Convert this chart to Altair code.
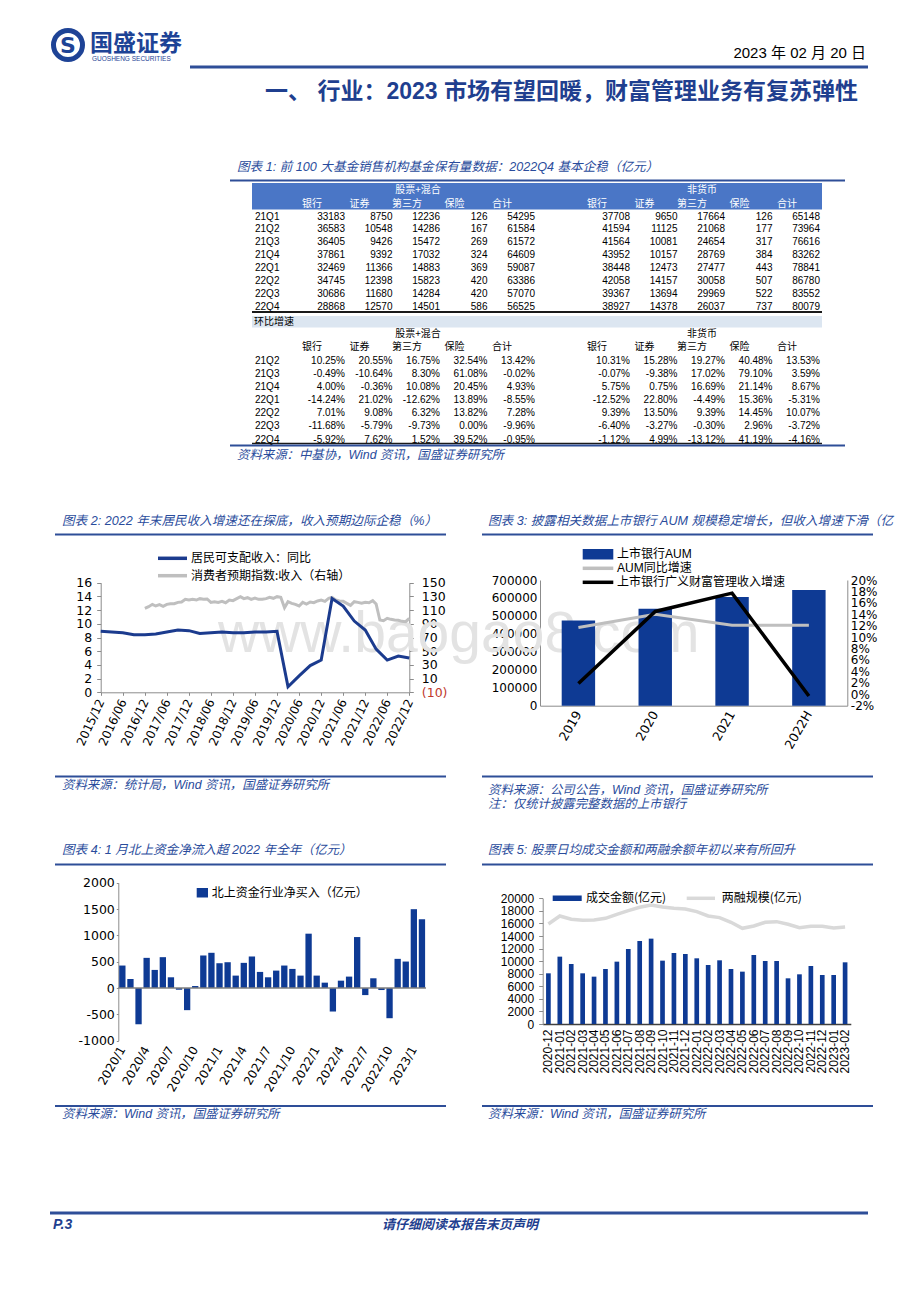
import altair as alt
import pandas as pd

# ---------------- data ----------------
quarters = ["21Q1", "21Q2", "21Q3", "21Q4", "22Q1", "22Q2", "22Q3", "22Q4"]
col_names = ["银行", "证券", "第三方", "保险", "合计"]
group_names = ["股票+混合", "非货币"]
eq_bank = [33183, 36583, 36405, 37861, 32469, 34745, 30686, 28868]
eq_sec = [8750, 10548, 9426, 9392, 11366, 12398, 11680, 12570]
eq_third = [12236, 14286, 15472, 17032, 14883, 15823, 14284, 14501]
eq_ins = [126, 167, 269, 324, 369, 420, 420, 586]
eq_total = [54295, 61584, 61572, 64609, 59087, 63386, 57070, 56525]
nm_bank = [37708, 41594, 41564, 43952, 38448, 42058, 39367, 38927]
nm_sec = [9650, 11125, 10081, 10157, 12473, 14157, 13694, 14378]
nm_third = [17664, 21068, 24654, 28769, 27477, 30058, 29969, 26037]
nm_ins = [126, 177, 317, 384, 443, 507, 522, 737]
nm_total = [65148, 73964, 76616, 83262, 78841, 86780, 83552, 80079]

g_quarters = ["21Q2", "21Q3", "21Q4", "22Q1", "22Q2", "22Q3", "22Q4"]
g_eq_bank = [10.25, -0.49, 4.00, -14.24, 7.01, -11.68, -5.92]
g_eq_sec = [20.55, -10.64, -0.36, 21.02, 9.08, -5.79, 7.62]
g_eq_third = [16.75, 8.30, 10.08, -12.62, 6.32, -9.73, 1.52]
g_eq_ins = [32.54, 61.08, 20.45, 13.89, 13.82, 0.00, 39.52]
g_eq_total = [13.42, -0.02, 4.93, -8.55, 7.28, -9.96, -0.95]
g_nm_bank = [10.31, -0.07, 5.75, -12.52, 9.39, -6.40, -1.12]
g_nm_sec = [15.28, -9.38, 0.75, 22.80, 13.50, -3.27, 4.99]
g_nm_third = [19.27, 17.02, 16.69, -4.49, 9.39, -0.30, -13.12]
g_nm_ins = [40.48, 79.10, 21.14, 15.36, 14.45, 2.96, 41.19]
g_nm_total = [13.53, 3.59, 8.67, -5.31, 10.07, -3.72, -4.16]

# chart 2
income_dates = [d.strftime("%Y-%m-01") for d in pd.date_range("2015-12-01", "2022-12-01", freq="3MS")]
income_yoy = [8.9, 8.8, 8.7, 8.4, 8.4, 8.5, 8.8, 9.1, 9.0, 8.6, 8.7, 8.8, 8.7, 8.7, 8.8, 8.8, 8.9,
              0.8, 2.4, 3.9, 4.7, 13.7, 12.6, 10.4, 9.1, 6.3, 4.7, 5.3, 5.0]
cons_dates = [d.strftime("%Y-%m-01") for d in pd.date_range("2016-12-01", "2022-12-01", freq="MS")]
cons_income = [112.6, 115.0, 118.4, 116.0, 117.9, 115.5, 118.4, 119.4, 119.4, 121.3, 121.8, 125.7,
               124.7, 125.7, 124.7, 126.7, 125.7, 126.2, 121.3, 122.3, 121.3, 122.8, 120.8, 124.7,
               123.8, 126.7, 129.6, 126.7, 128.1, 125.7, 127.6, 125.7, 125.7, 126.7, 128.6, 127.2,
               129.6, 128.6, 113.5, 122.3, 119.9, 118.4, 116.0, 121.3, 118.9, 121.8, 120.8, 123.3,
               124.7, 122.8, 127.2, 128.6, 124.7, 123.3, 122.8, 119.9, 116.9, 122.3, 121.3, 119.9,
               121.3, 120.8, 123.8, 118.9, 95.5, 94.6, 98.0, 96.5, 95.5, 95.1, 93.6, 93.1, 98.0]
c2_ticks = ["2015/12", "2016/06", "2016/12", "2017/06", "2017/12", "2018/06", "2018/12", "2019/06",
            "2019/12", "2020/06", "2020/12", "2021/06", "2021/12", "2022/06", "2022/12"]

# chart 3
c3_years = ["2019", "2020", "2021", "2022H"]
c3_aum = [475000, 540000, 605000, 644000]
c3_aum_yoy = [11.7, 14.0, 12.1, 12.1]
c3_wm_growth = [1.9, 14.5, 17.7, -0.3]

# chart 4
c4_months = [f"{y}/{m}" for y in (2020, 2021, 2022) for m in range(1, 13)] + ["2023/1", "2023/2"]
c4_northbound = [427, 172, -688, 573, 344, 586, 204, -32, -420, 38, 618, 669,
                 471, 490, 236, 478, 599, 306, 204, 331, 427, 363, 236, 1032,
                 236, 102, -446, 140, 217, 968, -134, 185, -38, -573, 554, 503,
                 1497, 1306]

# chart 5
c5_months = ["2020-12"] + [f"{y}-{m:02d}" for y in (2021, 2022) for m in range(1, 13)] + ["2023-01", "2023-02"]
c5_turnover = [8064, 10716, 9549, 8064, 7533, 8753, 9920, 11936, 13210, 13581, 10080, 11300, 11141,
               10451, 9390, 10133, 8753, 8329, 10981, 10027, 10027, 7268, 7905, 9231, 7798, 7798, 9814]
c5_margin = [15915, 17188, 16658, 16499, 16552, 16817, 17454, 18037, 18568, 18939, 18621, 18408, 18302,
             17878, 17188, 16923, 16180, 15225, 15597, 16180, 16286, 15862, 15332, 15544, 15544, 15279, 15438]

# ---------------- layout helpers ----------------
W, H = 904, 1286


def X(p):
    return p - 8


def Y(p):
    return p - 8


CJK = "Noto Sans CJK SC"
SANS = "Liberation Sans, Noto Sans CJK SC"
VERD = "DejaVu Sans, Noto Sans CJK SC"
NAVY = "#0E3A94"
LINEBLUE = "#1B3B8E"
TITLEBLUE = "#2A4C9C"
RULEBLUE = "#2E4E98"
GRAY = "#BFBFBF"
AXG = "#8C8C8C"
TS = 12.6  # title font size
CS = 12.4  # caption font size

one = pd.DataFrame({"k": [0]})


def text(s, x, y, size=12, color="#000000", align="left", font=SANS, weight="normal",
         style="normal", baseline="middle", limit=0, opacity=1.0):
    kw = dict(text=s, align=align, baseline=baseline, font=font, fontSize=size, color=color,
              fontWeight=weight, fontStyle=style, opacity=opacity)
    if limit:
        kw.update(limit=limit, ellipsis=" ")
    return alt.Chart(one).mark_text(**kw).encode(x=alt.value(X(x)), y=alt.value(Y(y)))


def hline(x1, x2, y, color=RULEBLUE, width=1.8):
    return alt.Chart(one).mark_rule(color=color, strokeWidth=width).encode(
        x=alt.value(X(x1)), x2=alt.value(X(x2)), y=alt.value(Y(y)))


def box(x1, x2, y1, y2, color):
    return alt.Chart(one).mark_rect(color=color).encode(
        x=alt.value(X(x1)), x2=alt.value(X(x2)), y=alt.value(Y(y1)), y2=alt.value(Y(y2)))


def axis(orient, pos, font=VERD, size=12, pad=3, tick=0, domain=True, dcolor=AXG, dwidth=1.0, **kw):
    if orient == "left":
        off = -X(pos)
    elif orient == "right":
        off = X(pos) - W
    else:
        off = Y(pos) - H
    d = dict(orient=orient, offset=off, grid=False, title=None, labelFont=font, labelFontSize=size,
             labelColor="#000000", labelPadding=pad, domain=domain, domainColor=dcolor,
             domainWidth=dwidth, labelOverlap=False, labelFlush=False)
    if tick:
        d.update(ticks=True, tickSize=tick, tickColor=dcolor)
    else:
        d.update(ticks=False)
    d.update(kw)
    return alt.Axis(**d)


layers = []

# ---------------- watermark ----------------
layers.append(text("www.baogao8.com", 218, 652, size=57, color="#E3E3E3", baseline="alphabetic",
                   font="Liberation Sans"))

# ---------------- header ----------------
layers.append(alt.Chart(one).mark_point(shape="circle", size=841, filled=False, strokeWidth=5,
                                        color="#1E4396", opacity=1).encode(
    x=alt.value(X(68)), y=alt.value(Y(45))))
layers.append(text("S", 68, 46, size=22, color="#1E4396", align="center", weight="bold",
                   font="DejaVu Sans"))
layers.append(text("国盛证券", 90, 44, size=23, color="#1E4396", weight="bold", font=CJK))
layers.append(text("GUOSHENG SECURITIES", 92, 59, size=6.5, color="#1E4396", font="Liberation Sans"))
layers.append(text("2023 年 02 月 20 日", 866, 53, size=15, align="right", font=SANS))
layers.append(hline(190, 868, 67, color=RULEBLUE, width=3))
layers.append(text("一、 行业：2023 市场有望回暖，财富管理业务有复苏弹性", 858, 92, size=23,
                   color="#1F3F8F", align="right", weight="bold", font=SANS))

# ---------------- table (chart 1) ----------------
layers.append(text("图表 1:  前 100 大基金销售机构基金保有量数据：2022Q4 基本企稳（亿元）", 237, 167,
                   size=TS, color=TITLEBLUE, style="italic"))
layers.append(hline(230, 845, 180.5))
layers.append(box(252, 822, 183, 209.5, "#4A76C6"))
layers.append(box(252, 822, 316, 327.5, "#DCE6F1"))
layers.append(hline(252, 822, 312, color="#1A1A1A", width=2))
layers.append(hline(252, 822, 443.5, color="#1A1A1A", width=1.5))
layers.append(hline(230, 845, 445.5))
layers.append(text("资料来源：中基协，Wind 资讯，国盛证券研究所", 237, 455, size=CS, color=TITLEBLUE,
                   style="italic"))

col_scale = alt.Scale(domain=[0, 10], range=[X(345), X(820)], nice=False, zero=False)
top_cols = [eq_bank, eq_sec, eq_third, eq_ins, eq_total, None, nm_bank, nm_sec, nm_third, nm_ins, nm_total]
bot_cols = [g_eq_bank, g_eq_sec, g_eq_third, g_eq_ins, g_eq_total, None,
            g_nm_bank, g_nm_sec, g_nm_third, g_nm_ins, g_nm_total]
rows_top, rows_bot = [], []
for r, q in enumerate(quarters):
    for c, arr in enumerate(top_cols):
        if arr is not None:
            rows_top.append({"row": r, "col": c, "label": f"{arr[r]}"})
for r, q in enumerate(g_quarters):
    for c, arr in enumerate(bot_cols):
        if arr is not None:
            rows_bot.append({"row": r, "col": c, "label": f"{arr[r]:.2f}%"})
df_top = pd.DataFrame(rows_top)
df_bot = pd.DataFrame(rows_bot)
ys_top = alt.Scale(domain=[0, 7], range=[Y(216.5), Y(307)], nice=False, zero=False)
ys_bot = alt.Scale(domain=[0, 6], range=[Y(361), Y(439.5)], nice=False, zero=False)

for df, ys in ((df_top, ys_top), (df_bot, ys_bot)):
    layers.append(alt.Chart(df).mark_text(align="right", baseline="middle", font=SANS, fontSize=10,
                                          color="#000000").encode(
        x=alt.X("col:Q", scale=col_scale, axis=None),
        y=alt.Y("row:Q", scale=ys, axis=None),
        text="label:N"))

df_q_top = pd.DataFrame({"row": list(range(len(quarters))), "q": quarters})
df_q_bot = pd.DataFrame({"row": list(range(len(g_quarters))), "q": g_quarters})
for df, ys in ((df_q_top, ys_top), (df_q_bot, ys_bot)):
    layers.append(alt.Chart(df).mark_text(align="left", baseline="middle", font=SANS, fontSize=10,
                                          color="#000000").encode(
        x=alt.value(X(255)),
        y=alt.Y("row:Q", scale=ys, axis=None),
        text="q:N"))

df_heads = pd.DataFrame({"col": [0, 1, 2, 3, 4, 6, 7, 8, 9, 10], "name": col_names * 2})
for yy, colr in ((204, "#FFFFFF"), (346.5, "#000000")):
    layers.append(alt.Chart(df_heads).mark_text(align="center", baseline="middle", font=CJK, fontSize=10,
                                                color=colr, dx=-33).encode(
        x=alt.X("col:Q", scale=col_scale, axis=None),
        y=alt.value(Y(yy)),
        text="name:N"))
for yy, colr in ((189.5, "#FFFFFF"), (334, "#000000")):
    layers.append(text(group_names[0], 418, yy, size=10, color=colr, align="center", font=CJK))
    layers.append(text(group_names[1], 702, yy, size=10, color=colr, align="center", font=CJK))
layers.append(text("环比增速", 254, 322, size=10, font=CJK))

# ---------------- section frames ----------------
for (x1, x2) in ((55, 446), (482, 873)):
    layers.append(hline(x1, x2, 534.5))
    layers.append(hline(x1, x2, 776.5))
    layers.append(hline(x1, x2, 864.5))
    layers.append(hline(x1, x2, 1106))
layers.append(text("图表 2:  2022 年末居民收入增速还在探底，收入预期边际企稳（%）", 62, 521, size=TS,
                   color=TITLEBLUE, style="italic"))
layers.append(text("图表 3:  披露相关数据上市银行 AUM 规模稳定增长，但收入增速下滑（亿元）", 488, 521, size=TS,
                   color=TITLEBLUE, style="italic", limit=424))
layers.append(text("图表 4:  1 月北上资金净流入超 2022 年全年（亿元）", 62, 850, size=TS,
                   color=TITLEBLUE, style="italic"))
layers.append(text("图表 5:  股票日均成交金额和两融余额年初以来有所回升", 488, 850, size=TS,
                   color=TITLEBLUE, style="italic"))
layers.append(text("资料来源：统计局，Wind 资讯，国盛证券研究所", 62, 785, size=CS, color=TITLEBLUE, style="italic"))
layers.append(text("资料来源：公司公告，Wind 资讯，国盛证券研究所", 488, 790, size=CS, color=TITLEBLUE,
                   style="italic"))
layers.append(text("注：仅统计披露完整数据的上市银行", 488, 803.5, size=CS, color=TITLEBLUE, style="italic"))
layers.append(text("资料来源：Wind 资讯，国盛证券研究所", 62, 1114, size=CS, color=TITLEBLUE, style="italic"))
layers.append(text("资料来源：Wind 资讯，国盛证券研究所", 488, 1114, size=CS, color=TITLEBLUE, style="italic"))

# ---------------- chart 2 ----------------
def dt(s):
    return alt.DateTime(year=int(s[:4]), month=int(s[5:7]), date=1, utc=True)


c2_x = alt.Scale(type="utc", domain=[dt("2015-12"), dt("2022-12")], range=[X(100.7), X(409.3)])
c2_yl = alt.Scale(domain=[0, 16], range=[Y(692.3), Y(582.7)], nice=False, zero=False)
c2_yr = alt.Scale(domain=[-10, 150], range=[Y(692.3), Y(582.7)], nice=False, zero=False)
df_c2a = pd.DataFrame({"date": income_dates, "v": income_yoy})
df_c2b = pd.DataFrame({"date": cons_dates, "v": cons_income})

layers.append(alt.Chart(df_c2b).mark_line(color=GRAY, strokeWidth=3).encode(
    x=alt.X("date:T", scale=c2_x, axis=None),
    y=alt.Y("v:Q", scale=c2_yr,
            axis=axis("right", 409.3, size=12.5, pad=8, tick=4, values=list(range(-10, 151, 20)),
                      labelExpr="datum.value < 0 ? '(' + (-datum.value) + ')' : '' + datum.value",
                      labelColor={"condition": {"test": "datum.value < 0", "value": "#C0392B"},
                                  "value": "#000000"}))))
layers.append(alt.Chart(df_c2a).mark_line(color=LINEBLUE, strokeWidth=3).encode(
    x=alt.X("date:T", scale=c2_x,
            axis=axis("bottom", 692.3, size=12, pad=4, tick=3, values=[dt(s.replace("/", "-")) for s in c2_ticks],
                      labelExpr="utcFormat(datum.value, '%Y/%m')", labelAngle=295, labelAlign="right",
                      labelBaseline="middle")),
    y=alt.Y("v:Q", scale=c2_yl,
            axis=axis("left", 100.7, size=12.5, pad=5, tick=4, values=list(range(0, 17, 2))))))
layers.append(hline(158, 187, 558.3, color=LINEBLUE, width=3.5))
layers.append(hline(158, 187, 575.7, color=GRAY, width=3.5))
layers.append(text("居民可支配收入：同比", 191, 558.3, size=12, font=CJK))
layers.append(text("消费者预期指数:收入（右轴）", 191, 575.7, size=12, font=CJK))

# ---------------- chart 3 ----------------
c3_xb = alt.Scale(type="band", domain=c3_years, range=[X(540), X(847.3)], paddingInner=0.565,
                  paddingOuter=0.2825)
c3_xp = alt.Scale(type="point", domain=c3_years, range=[X(540), X(847.3)], padding=0.5)
c3_yl = alt.Scale(domain=[0, 700000], range=[Y(705.7), Y(580)], nice=False, zero=False)
c3_yr = alt.Scale(domain=[-2, 20], range=[Y(705.7), Y(580)], nice=False, zero=False)
df_c3 = pd.DataFrame({"year": c3_years, "aum": c3_aum, "yoy": c3_aum_yoy, "wm": c3_wm_growth})
layers.append(alt.Chart(df_c3).mark_bar(color=NAVY).encode(
    x=alt.X("year:N", scale=c3_xb, sort=None,
            axis=axis("bottom", 705.7, size=12.5, pad=6, labelAngle=300, labelAlign="right",
                      labelBaseline="middle")),
    y=alt.Y("aum:Q", scale=c3_yl,
            axis=axis("left", 540, size=12, pad=3, tick=0, values=list(range(0, 700001, 100000)),
                      labelExpr="'' + datum.value"))))
layers.append(alt.Chart(df_c3).mark_line(color=GRAY, strokeWidth=3).encode(
    x=alt.X("year:N", scale=c3_xp, sort=None, axis=None),
    y=alt.Y("yoy:Q", scale=c3_yr,
            axis=axis("right", 847.3, size=12, pad=3, tick=0, values=list(range(-2, 21, 2)),
                      labelExpr="datum.value + '%'"))))
layers.append(alt.Chart(df_c3).mark_line(color="#000000", strokeWidth=3.5).encode(
    x=alt.X("year:N", scale=c3_xp, sort=None, axis=None),
    y=alt.Y("wm:Q", scale=c3_yr, axis=None)))
layers.append(box(582.7, 613.3, 549, 559.5, NAVY))
layers.append(hline(582.7, 613.3, 568.3, color=GRAY, width=3.5))
layers.append(hline(582.7, 613.3, 582.3, color="#000000", width=3.5))
layers.append(text("上市银行AUM", 617, 554.3, size=12))
layers.append(text("AUM同比增速", 617, 568.3, size=12))
layers.append(text("上市银行广义财富管理收入增速", 617, 582.3, size=12))

# ---------------- chart 4 ----------------
c4_x = alt.Scale(type="band", domain=c4_months, range=[X(118.3), X(426)], paddingInner=0.22, paddingOuter=0.11)
c4_y = alt.Scale(domain=[-1000, 2000], range=[Y(1040.7), Y(882.7)], nice=False, zero=False)
df_c4 = pd.DataFrame({"m": c4_months, "v": c4_northbound})
layers.append(alt.Chart(df_c4).mark_bar(color=NAVY).encode(
    x=alt.X("m:N", scale=c4_x, sort=None,
            axis=axis("bottom", 1041, size=12, pad=6, domain=False, values=c4_months[::3],
                      labelAngle=300, labelAlign="right", labelBaseline="middle")),
    y=alt.Y("v:Q", scale=c4_y,
            axis=axis("left", 118.3, size=12.5, pad=2, tick=2, values=list(range(-1000, 2001, 500)),
                      labelExpr="'' + datum.value"))))
layers.append(alt.Chart(one).mark_rule(color="#7F7F7F", strokeWidth=1.6).encode(
    x=alt.value(X(118.3)), x2=alt.value(X(426)),
    y=alt.Y(datum=0, scale=c4_y, axis=None)))
layers.append(box(196.7, 208, 888, 897.5, NAVY))
layers.append(text("北上资金行业净买入（亿元）", 211.7, 892.5, size=12, font=CJK))

# ---------------- chart 5 ----------------
c5_xb = alt.Scale(type="band", domain=c5_months, range=[X(542.7), X(850.8)], paddingInner=0.59, paddingOuter=0.295)
c5_xp = alt.Scale(type="point", domain=c5_months, range=[X(542.7), X(850.8)], padding=0.5)
c5_y = alt.Scale(domain=[0, 20000], range=[Y(1024), Y(898.3)], nice=False, zero=False)
df_c5 = pd.DataFrame({"m": c5_months, "t": c5_turnover, "mg": c5_margin})
layers.append(alt.Chart(df_c5).mark_line(color="#D9D9D9", strokeWidth=3.5).encode(
    x=alt.X("m:N", scale=c5_xp, sort=None, axis=None),
    y=alt.Y("mg:Q", scale=c5_y, axis=None)))
layers.append(alt.Chart(df_c5).mark_bar(color=NAVY).encode(
    x=alt.X("m:N", scale=c5_xb, sort=None,
            axis=axis("bottom", 1024, font="Liberation Sans", size=12, pad=5, dcolor="#404040", dwidth=1.5,
                      labelAngle=270, labelAlign="right", labelBaseline="middle")),
    y=alt.Y("t:Q", scale=c5_y,
            axis=axis("left", 542.7, font="Liberation Sans", size=12, pad=5, tick=4,
                      values=list(range(0, 20001, 2000)), labelExpr="'' + datum.value"))))
layers.append(box(552.7, 581.7, 895.5, 901, NAVY))
layers.append(hline(686.7, 715, 898.3, color="#D9D9D9", width=3.5))
layers.append(text("成交金额(亿元)", 586, 898.3, size=12, font=CJK))
layers.append(text("两融规模(亿元)", 721.7, 898.3, size=12, font=CJK))

# ---------------- footer ----------------
layers.append(hline(50, 868, 1213, color=RULEBLUE, width=3))
layers.append(text("P.3", 53, 1225, size=14, color="#1F3F8F", weight="bold", style="italic"))
layers.append(text("请仔细阅读本报告末页声明", 460, 1225, size=13, color="#1F3F8F", align="center",
                   weight="bold", style="italic"))

chart = alt.layer(*layers).resolve_scale(x="independent", y="independent").properties(
    width=W, height=H, autosize=alt.AutoSizeParams(type="none"), padding=0,
    background="#FFFFFF").configure_view(stroke=None)

chart.save("out.html", embed_options={"renderer": "svg", "actions": False})
